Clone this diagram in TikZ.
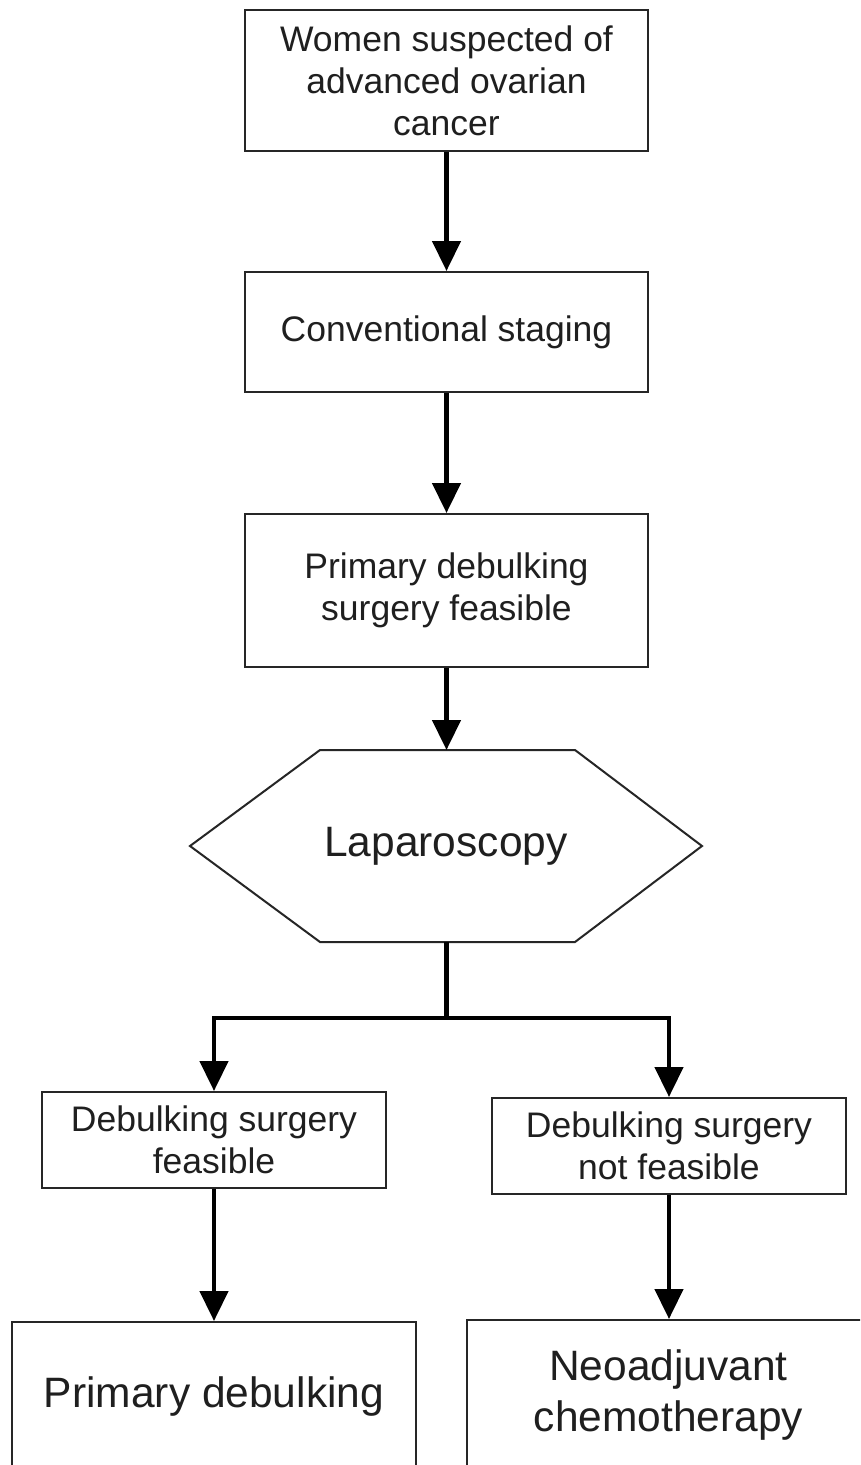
\documentclass[tikz,border=0pt]{standalone}
\usepackage{fontspec}
\setmainfont{Liberation Sans}
\usetikzlibrary{arrows.meta}
\begin{document}
\begin{tikzpicture}[x=1pt,y=-1pt,
  box/.style={draw=black!85, line width=2pt, fill=white, align=center, text=black!88,
    font=\fontsize{35.5}{42}\selectfont, inner sep=0pt},
  bigbox/.style={box, font=\fontsize{42.5}{51}\selectfont},
  arr/.style={line width=4.5pt, draw=black, -{Triangle[width=28pt,length=30pt]}},
  conn/.style={line width=4.5pt, draw=black}]
\useasboundingbox (0,0) rectangle (860,1465);
\fill[white] (0,0) rectangle (860,1465);
\clip (0,0) rectangle (860,1465);

\node[box, minimum width=403pt, minimum height=141pt] (b1) at (446.5,80.5)
  {Women suspected of\\advanced ovarian\\cancer};
\node[box, minimum width=403pt, minimum height=120pt] (b2) at (446.5,332)
  {Conventional staging};
\node[box, minimum width=403pt, minimum height=153pt] (b3) at (446.5,590.5)
  {Primary debulking\\surgery feasible};

% hexagon
\draw[draw=black!85, line width=2pt, fill=white]
  (320,750) -- (575,750) -- (702,846) -- (575,942) -- (320,942) -- (190,846) -- cycle;
\node[font=\fontsize{42.5}{51}\selectfont, text=black!88, inner sep=0pt] (hex) at (446,846) {Laparoscopy};
\coordinate (hextop) at (446.5,750);
\coordinate (hexbot) at (446.5,942);
\coordinate (split) at (446.5,1018);

\node[box, minimum width=344pt, minimum height=96pt] (b4) at (214,1140)
  {Debulking surgery\\feasible};
\node[box, minimum width=354pt, minimum height=96pt] (b5) at (669,1146)
  {Debulking surgery\\not feasible};

\node[bigbox, minimum width=404pt, minimum height=148pt] (b6) at (214,1396)
  {Primary debulking};
\node[bigbox, minimum width=403pt, minimum height=150pt] (b7) at (668.5,1395)
  {Neoadjuvant\\chemotherapy};

\draw[arr] (b1.south) -- (b2.north);
\draw[arr] (b2.south) -- (b3.north);
\draw[arr] (b3.south) -- (hextop);
\draw[conn] (hexbot) -- (split);
\draw[arr] (split) -| (b4.north);
\draw[arr] (split) -| (b5.north);
\draw[arr] (b4.south) -- (b4.south |- b6.north);
\draw[arr] (b5.south) -- (b5.south |- b7.north);
\end{tikzpicture}
\end{document}
